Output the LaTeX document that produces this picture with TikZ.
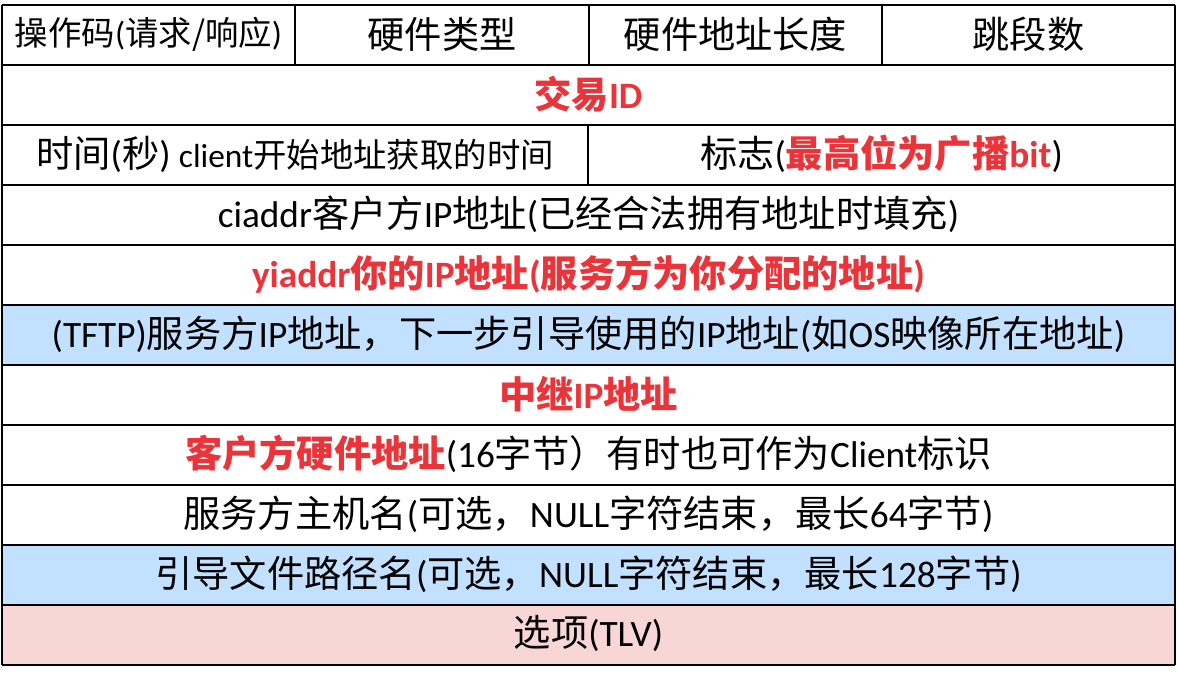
\documentclass[tikz,border=0pt]{standalone}
\usepackage{fontspec}
\setmainfont{Noto Sans CJK SC}
\newfontfamily\enfont{Carlito}
\newcommand{\en}[1]{{\enfont #1}}
\definecolor{hotred}{RGB}{235,51,58}
\definecolor{rowblue}{RGB}{194,224,255}
\definecolor{rowpink}{RGB}{248,214,214}
\tikzset{
	field/.style={inner sep=0pt, font=\fontsize{21.2}{25}\selectfont},
	hot/.style={field, text=hotred, font=\fontsize{21.2}{25}\selectfont\bfseries},
}
\newcommand{\hot}[1]{{\color{hotred}\bfseries #1}}

\begin{document}
\begin{tikzpicture}[x=0.02cm, y=-0.02cm]
		\useasboundingbox (0, 0) rectangle (1178, 681);
		\fill[rowblue] (2, 305) rectangle (1175, 365);
		\fill[rowblue] (2, 545) rectangle (1175, 605);
		\fill[rowpink] (2, 605) rectangle (1175, 665);
		\foreach \r in {0, 1, ..., 11}{
			\draw[line width=1.1pt] (2, {5 + 60*\r}) -- (1175, {5 + 60*\r});
		}
		\draw[line width=1.1pt] (2, 5) -- (2, 665);
		\draw[line width=1.1pt] (1175, 5) -- (1175, 665);
		\foreach \i in {295, 589, 882}{
			\draw[line width=1.1pt] (\i, 5) -- (\i, 65);
		}
		\draw[line width=1.1pt] (588, 125) -- (588, 185);
		\node[field, font=\fontsize{19}{23}\selectfont] (opcode) at (148.5, 34) {操作码\en{(}请求/响应\en{)}};
		\node[field] (hwtype) at (442, 34) {硬件类型};
		\node[field] (hwlen) at (735.5, 34) {硬件地址长度};
		\node[field] (hops) at (1028.5, 34) {跳段数};
		\node[hot] (xid) at (588.5, 94) {交易\en{ID}};
		\node[field] (secs) at (295, 154) {时间\en{(}秒\en{)} {\fontsize{19}{23}\selectfont\en{client}开始地址获取的时间}};
		\node[field] (flags) at (881.5, 154) {标志\en{(}\hot{最高位为广播\en{bit}}\en{)}};
		\node[field] (ciaddr) at (588.5, 214) {\en{ciaddr}客户方\en{IP}地址\en{(}已经合法拥有地址时填充\en{)}};
		\node[hot] (yiaddr) at (588.5, 274) {\en{yiaddr}你的\en{IP}地址\en{(}服务方为你分配的地址\en{)}};
		\node[field] (siaddr) at (588.5, 334) {\en{(TFTP)}服务方\en{IP}地址，下一步引导使用的\en{IP}地址\en{(}如\en{OS}映像所在地址\en{)}};
		\node[hot] (giaddr) at (588.5, 394) {中继\en{IP}地址};
		\node[field] (chaddr) at (588.5, 454) {\hot{客户方硬件地址}\en{(16}字节）有时也可作为\en{Client}标识};
		\node[field] (sname) at (588.5, 514) {服务方主机名\en{(}可选，\en{NULL}字符结束，最长\en{64}字节\en{)}};
		\node[field] (file) at (588.5, 574) {引导文件路径名\en{(}可选，\en{NULL}字符结束，最长\en{128}字节\en{)}};
		\node[field] (options) at (588.5, 634) {选项\en{(TLV)}};
	\end{tikzpicture}
\end{document}
